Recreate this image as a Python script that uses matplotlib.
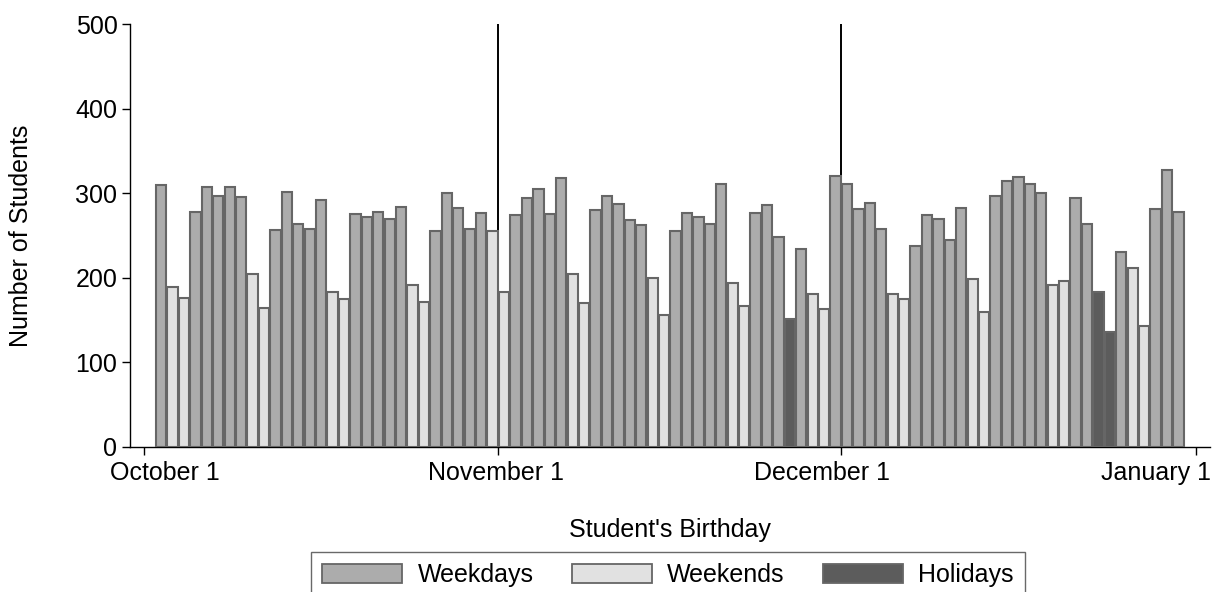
import numpy as np
import matplotlib
matplotlib.use("Agg")
import matplotlib.pyplot as plt
import matplotlib.transforms as mtransforms
from matplotlib.patches import Patch

plt.rcParams['font.family'] = ['Liberation Sans', 'DejaVu Sans']

# number of students per birthday (day 1 = first bar after October 1)
counts = [310, 189, 176, 278, 307, 297, 307, 295, 205, 164,
          257, 302, 264, 258, 292, 183, 175, 275, 272, 278,
          270, 284, 192, 171, 255, 300, 283, 258, 277, 255,
          183, 274, 294, 305, 276, 318, 205, 170, 280, 297,
          287, 268, 263, 200, 156, 255, 277, 272, 264, 311,
          194, 166, 277, 286, 248, 151, 234, 181, 163, 321,
          311, 281, 288, 258, 181, 175, 238, 274, 269, 245,
          282, 198, 160, 297, 314, 319, 311, 300, 191, 196,
          294, 264, 183, 136, 230, 212, 143, 281, 328, 278]

# W = weekday, E = weekend, H = holiday
day_type = list("WEEWWWWWEE"
                "WWWWWEEWWW"
                "WWEEWWWWWE"
                "EWWWWWEEWW"
                "WWWEEWWWWW"
                "EEWWWHWEEW"
                "WWWWEEWWWW"
                "WEEWWWWWEE"
                "WWHHWEEWWW")

month_ticks = [0, 31, 61, 92]
month_labels = ["October 1", "November 1", "December 1", "January 1"]
month_lines = [31, 61]

fill = {"W": "#acacac", "E": "#e1e1e1", "H": "#5c5c5c"}
edge = "#666666"

fig = plt.figure(figsize=(12.16, 5.92), dpi=100)
ax = fig.add_axes([0.1069, 0.2454, 0.8882, 0.7136])

days = np.arange(1, len(counts) + 1)
colors = [fill[t] for t in day_type]
ax.bar(days + 0.5, counts, width=0.9, color=colors, edgecolor=edge,
       linewidth=1.5, zorder=3)

for m in month_lines:
    ax.axvline(m, color="black", linewidth=1.4, zorder=1)

ax.set_xlim(-1.225, 93.26)
ax.set_ylim(0, 500)
ax.set_yticks([0, 100, 200, 300, 400, 500])
ax.set_xticks(month_ticks)
ax.set_xticklabels(month_labels)

for s in ["top", "right"]:
    ax.spines[s].set_visible(False)
ax.spines["left"].set_linewidth(1.0)
ax.spines["bottom"].set_linewidth(1.0)
ax.tick_params(axis="both", direction="out", length=6, width=1.0,
               labelsize=18, colors="black")
ax.tick_params(axis="y", pad=3)
ax.tick_params(axis="x", pad=4)

# the month labels in the original sit a little off their ticks
offsets_px = [20.7, -2.3, -19.0, -39.5]
for lab, dx in zip(ax.get_xticklabels(), offsets_px):
    lab.set_transform(lab.get_transform() +
                      mtransforms.ScaledTranslation(dx / 100, 0, fig.dpi_scale_trans))

ax.set_ylabel("Number of Students", fontsize=18)
ax.yaxis.set_label_coords(-0.0895, 0.5)
ax.set_xlabel("Student's Birthday", fontsize=18)
ax.xaxis.set_label_coords(0.5, -0.168)

handles = [Patch(facecolor=fill["W"], edgecolor=edge, linewidth=1.3, label="Weekdays"),
           Patch(facecolor=fill["E"], edgecolor=edge, linewidth=1.3, label="Weekends"),
           Patch(facecolor=fill["H"], edgecolor=edge, linewidth=1.3, label="Holidays")]
leg = fig.legend(handles=handles, loc="upper center", ncol=3, fontsize=18,
                 bbox_to_anchor=(0.5495, 1 - 552 / 592), frameon=True,
                 fancybox=False, handlelength=3.2, handleheight=0.8,
                 handletextpad=0.6, columnspacing=1.55, borderpad=0.45,
                 borderaxespad=0)
leg.get_frame().set_edgecolor("#444444")
leg.get_frame().set_linewidth(1.0)

fig.savefig("out.png", dpi=100)
